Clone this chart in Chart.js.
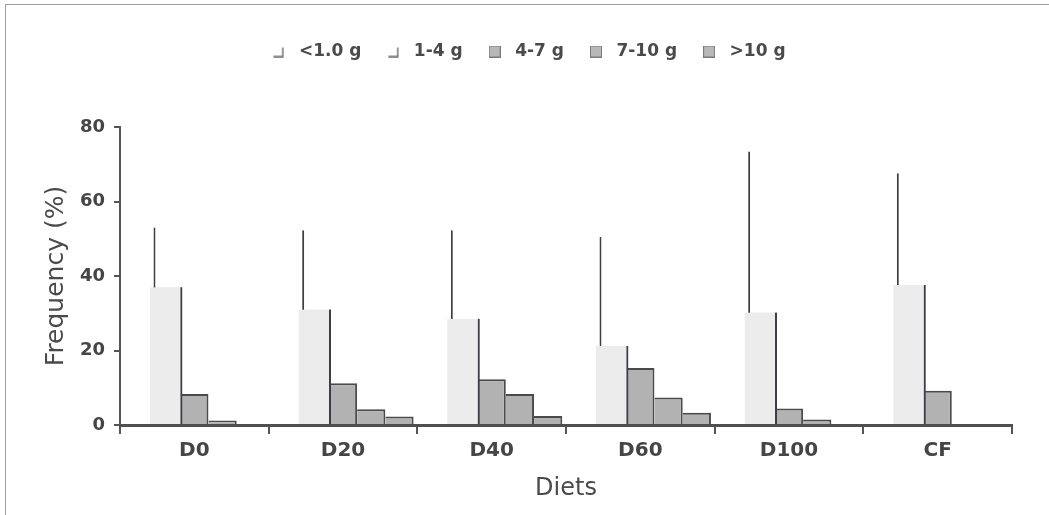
<!DOCTYPE html>
<html lang="en">
<head>
  <meta charset="UTF-8" />
  <title>Frequency by diet</title>
  <style>
    body{margin:0;background:#fff}
    #wrap{position:relative;width:1049px;height:515px}
    #frame{position:absolute;left:5px;top:4px;right:0;bottom:0;border-left:1px solid #a0a0a0;border-top:1px solid #a0a0a0}
    canvas{position:absolute;left:0;top:0}
  </style>
</head>
<body>

  <div id="wrap">
    <div id="frame"></div>
    <canvas id="chart" width="1049" height="515"></canvas>
  </div>

  <script src="https://cdn.jsdelivr.net/npm/chart.js"></script>

  <script>
  /* ---------- data ---------- */
  const diets     = ['D0','D20','D40','D60','D100','CF'];
  const classes   = ['<1.0 g','1-4 g','4-7 g','7-10 g','>10 g'];
  const under1    = [53, 52.3, 52.3, 50.5, 73.4, 67.6];
  const from1to4  = [37, 31, 28.5, 21.2, 30.2, 37.6];
  const from4to7  = [8.3, 11.2, 12.3, 15.3, 4.4, 9.2];
  const from7to10 = [1.2, 4.2, 8.3, 7.4, 1.5, 0.3];
  const over10    = [0.3, 2.3, 2.4, 3.3, 0.3, 0.3];
  const yTicks    = [0, 20, 40, 60, 80];

  /* ---------- legend icons ---------- */
  function icon(open){
    const c=document.createElement('canvas'); c.width=12; c.height=12;
    const g=c.getContext('2d');
    if(open){
      g.strokeStyle='#6a6a6a'; g.lineWidth=1.5;
      g.beginPath(); g.moveTo(1,11); g.lineTo(10.5,11); g.lineTo(10.5,2); g.stroke();
    }else{
      g.fillStyle='#b8b8b8'; g.fillRect(0,0,12,12);
      g.strokeStyle='#7a7a7a'; g.lineWidth=1; g.strokeRect(0.5,0.5,11,11);
    }
    return c;
  }
  const icons=[icon(true),icon(true),icon(false),icon(false),icon(false)];

  const dark='#3e3e46', gray='#b2b2b2';
  const rightOnly={top:0,right:2,bottom:0,left:0};
  const topRight ={top:2,right:2,bottom:0,left:0};

  // extra room under the legend
  const legendSpacer={
    id:'legendSpacer',
    beforeInit(chart){
      const fit=chart.legend.fit;
      chart.legend.fit=function(){ fit.call(this); this.height+=57; };
    }
  };
  // 1-4 g bars go over the <1.0 g edge line
  const secondOnTop={
    id:'secondOnTop',
    afterDatasetsDraw(chart){ chart.getDatasetMeta(1).controller.draw(); }
  };

  Chart.defaults.font.family='DejaVu Sans';

  new Chart(document.getElementById('chart'),{
    type:'bar',
    data:{
      labels:diets,
      datasets:[
        {label:classes[0],data:under1,   backgroundColor:'#ffffff',borderColor:dark,borderWidth:rightOnly,barPercentage:1.25},
        {label:classes[1],data:from1to4, backgroundColor:'#ececec',borderColor:dark,borderWidth:rightOnly,barPercentage:1.15},
        {label:classes[2],data:from4to7, backgroundColor:gray,borderColor:'#4a4a4a',borderWidth:topRight},
        {label:classes[3],data:from7to10,backgroundColor:gray,borderColor:'#4a4a4a',borderWidth:topRight},
        {label:classes[4],data:over10,   backgroundColor:gray,borderColor:'#4a4a4a',borderWidth:topRight}
      ]
    },
    options:{
      responsive:false,animation:false,
      categoryPercentage:0.95,barPercentage:1,
      layout:{padding:{left:40,right:37,top:23,bottom:0}},
      plugins:{
        tooltip:{enabled:false},
        legend:{
          position:'top',
          labels:{
            usePointStyle:true,pointStyleWidth:24,boxHeight:12,padding:20,
            font:{size:17,weight:'bold'},color:'#4a4a4a',
            generateLabels:chart=>chart.data.datasets.map((ds,i)=>({
              text:ds.label,pointStyle:icons[i],datasetIndex:i,hidden:false,
              lineWidth:0,fillStyle:'#fff',strokeStyle:'#fff',fontColor:'#4a4a4a'
            }))
          }
        }
      },
      scales:{
        x:{
          offset:true,
          grid:{offset:true,drawOnChartArea:false,tickLength:9,color:'#555',lineWidth:2,z:1},
          border:{color:'#505050',width:3,z:1},
          ticks:{font:{size:20,weight:'bold'},color:'#454545',padding:5},
          title:{display:true,text:'Diets',font:{size:24},color:'#4a4a4a',padding:{top:4,bottom:12}},
          afterFit:s=>{ s.height=90; }
        },
        y:{
          min:0,max:80,
          afterBuildTicks:s=>{ s.ticks=yTicks.map(v=>({value:v})); },
          grid:{drawOnChartArea:false,tickLength:6,color:'#555',lineWidth:2,z:1},
          border:{color:'#555',width:2,z:1},
          ticks:{font:{size:18,weight:'bold'},color:'#454545',padding:9},
          title:{display:true,text:'Frequency (%)',font:{size:25,lineHeight:1},color:'#4a4a4a',padding:{top:4,bottom:0}},
          afterFit:s=>{ s.width=80; }
        }
      }
    },
    plugins:[legendSpacer,secondOnTop]
  });
  </script>
</body>
</html>
